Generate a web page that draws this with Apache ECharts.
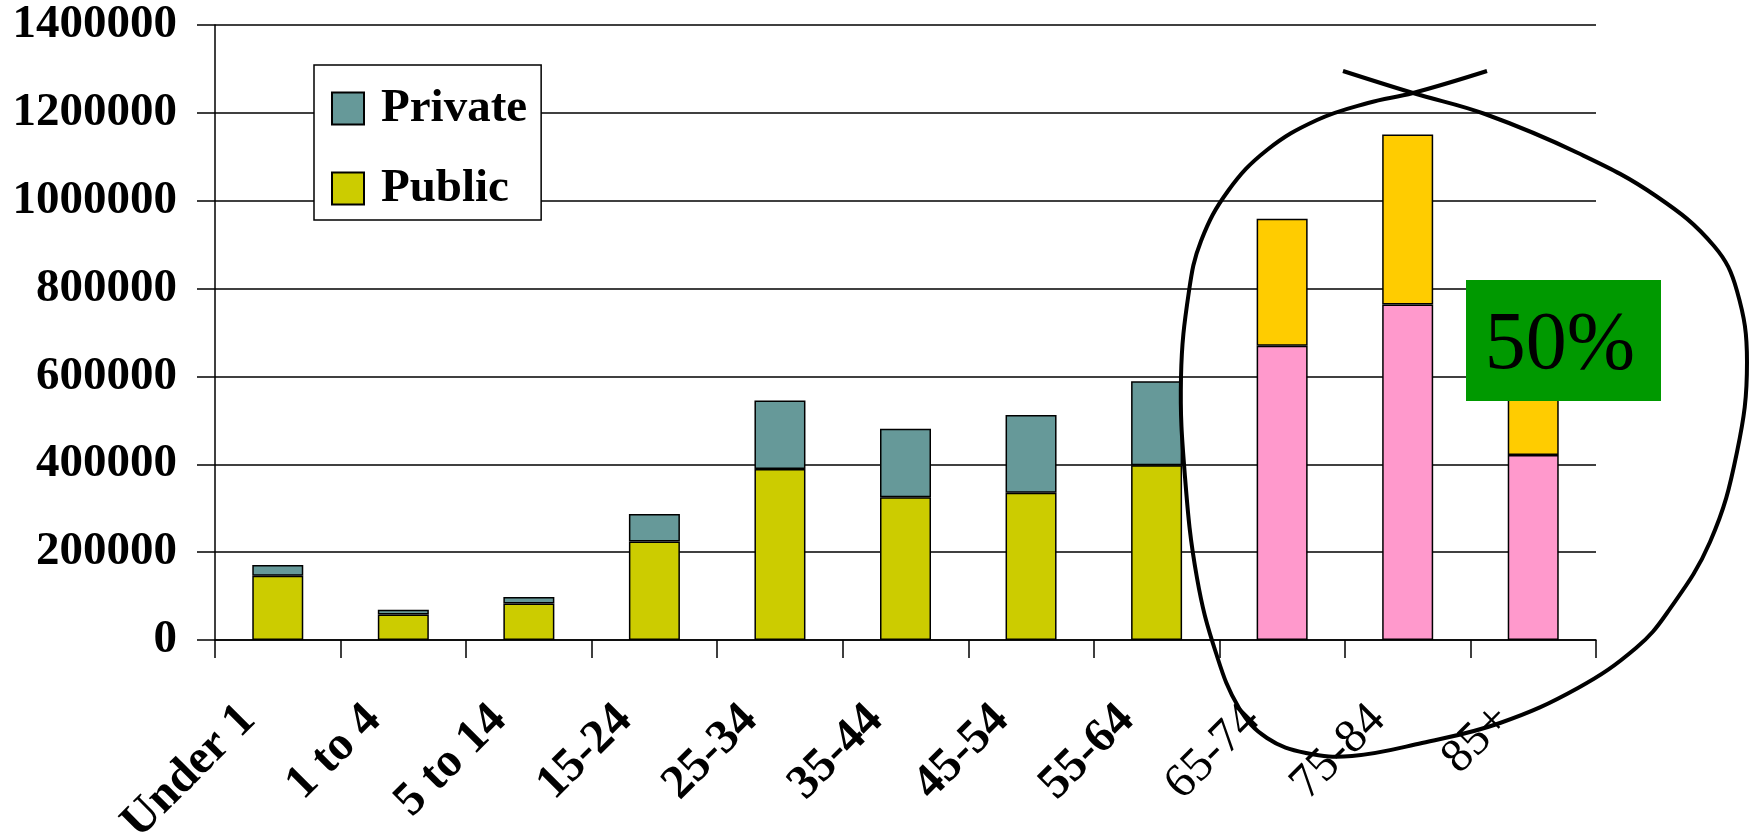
<!DOCTYPE html>
<html>
<head>
<meta charset="utf-8">
<script src="https://cdn.jsdelivr.net/npm/echarts@6/dist/echarts.min.js"></script>
<style>
html,body{margin:0;padding:0;background:#fff;}
#chart{width:1760px;height:837px;}
</style>
</head>
<body>
<div id="chart"></div>
<script>
const categories = ['Under 1','1 to 4','5 to 14','15-24','25-34','35-44','45-54','55-64','65-74','75-84','85+'];
const publicVals  = [146000, 58000, 83000, 224000, 389000, 325000, 335000, 398000, 670000, 764000, 421000];
const privateVals = [25000, 11000, 15000, 63000, 156000, 156000, 177000, 191000, 289000, 387000, 229000];
const elderlyCategories = ['65-74','75-84','85+'];
const yTicks = [0, 200000, 400000, 600000, 800000, 1000000, 1200000, 1400000];
const calloutText = '50%';

const FONT = "'Liberation Serif','Times New Roman',serif";
const C_PRIVATE = '#669999', C_PUBLIC = '#CCCC00', C_PINK = '#FF99CC', C_YELLOW = '#FFCC00';

const isElderly = c => elderlyCategories.indexOf(c) >= 0;
const publicData = publicVals.map((v, i) => isElderly(categories[i]) ? {value: v, itemStyle: {color: C_PINK}} : v);
const privateData = privateVals.map((v, i) => isElderly(categories[i]) ? {value: v, itemStyle: {color: C_YELLOW}} : v);
const catData = categories.map(c => isElderly(c) ? {value: c, textStyle: {fontWeight: 'normal'}} : c);

const loopPts = [[1343,71],[1413,93],[1485,114],[1578,153],[1656,196],[1714,246],[1737,291],[1747,362],[1737,452],[1710,542],[1667,613],[1636,648],[1578,688],[1500,723],[1422,743],[1352,756],[1306,753],[1267,738],[1239,708],[1216,653],[1197,578],[1185,477],[1181,377],[1189,291],[1201,241],[1228,191],[1267,150],[1317,120],[1368,103],[1413,93],[1487,71]];

const chart = echarts.init(document.getElementById('chart'), null, {renderer: 'canvas'});
chart.setOption({
  animation: false,
  backgroundColor: '#fff',
  grid: {left: 215, right: 164, top: 25, bottom: 197, containLabel: false, outerBoundsMode: 'none'},
  legend: {
    data: ['Private', 'Public'],
    orient: 'vertical',
    left: 314, top: 65,
    padding: [20, 14, 8, 17],
    itemGap: 33,
    itemWidth: 32, itemHeight: 32,
    icon: 'rect',
    backgroundColor: '#fff',
    borderColor: '#000', borderWidth: 1.5, borderRadius: 0,
    textStyle: {fontFamily: FONT, fontWeight: 'bold', fontSize: 47, color: '#000', lineHeight: 32, padding: [0,0,0,12]},
    selectedMode: false
  },
  xAxis: {
    type: 'category',
    data: catData,
    axisLine: {lineStyle: {color: '#000', width: 1.5}},
    axisTick: {show: true, length: 18, lineStyle: {color: '#000', width: 1.5}},
    axisLabel: {rotate: 45, margin: 43, padding: [0, 42, 0, 0], fontFamily: FONT, fontWeight: 'bold', fontSize: 48, color: '#000', interval: 0}
  },
  yAxis: {
    type: 'value',
    min: yTicks[0], max: yTicks[yTicks.length - 1], interval: yTicks[1] - yTicks[0],
    axisLine: {show: true, lineStyle: {color: '#000', width: 1.5}},
    axisTick: {show: true, length: 18, lineStyle: {color: '#000', width: 1.5}},
    splitLine: {show: true, lineStyle: {color: '#000', width: 1.5}},
    axisLabel: {margin: 38, fontFamily: FONT, fontWeight: 'bold', fontSize: 47, color: '#000', formatter: v => String(v)}
  },
  series: [
    {name: 'Public', type: 'bar', stack: 'total', data: publicData, barWidth: 51,
     itemStyle: {color: C_PUBLIC, borderColor: '#000', borderWidth: 1.5}},
    {name: 'Private', type: 'bar', stack: 'total', data: privateData, barWidth: 51,
     itemStyle: {color: C_PRIVATE, borderColor: '#000', borderWidth: 1.5}}
  ],
  graphic: [
    {type: 'rect', z: 100, shape: {x: 1466, y: 280, width: 195, height: 121}, style: {fill: '#009900'}},
    {type: 'text', z: 101, x: 1560, y: 346, style: {text: calloutText, fontFamily: FONT, fontSize: 82, fill: '#000', textAlign: 'center', textVerticalAlign: 'middle'}},
    {type: 'polyline', z: 102, shape: {points: loopPts, smooth: 0.4}, style: {stroke: '#000', lineWidth: 4, fill: null}}
  ]
});
</script>
</body>
</html>
